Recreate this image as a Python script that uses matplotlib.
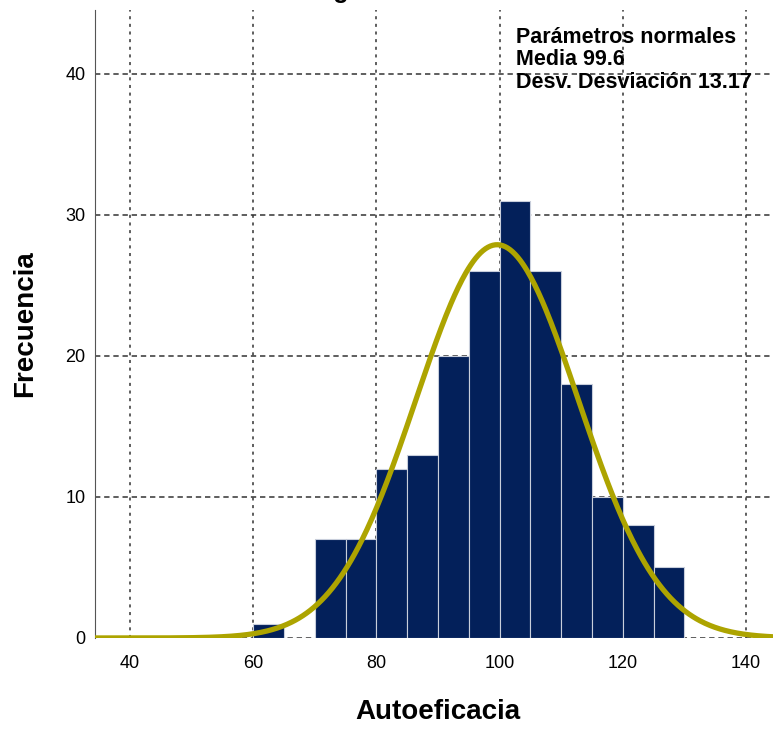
import numpy as np
import matplotlib
matplotlib.use("Agg")
import matplotlib.pyplot as plt

# datos del histograma (bins de 5)
bin_edges = [60, 65, 70, 75, 80, 85, 90, 95, 100, 105, 110, 115, 120, 125, 130]
frecuencias = [1, 0, 7, 7, 12, 13, 20, 26, 31, 26, 18, 10, 8, 5]
media = 99.6
desv = 13.17
n_total = 184
x_ticks = [40, 60, 80, 100, 120, 140]
y_ticks = [0, 10, 20, 30, 40]

plt.rcParams['font.family'] = ['Liberation Sans', 'DejaVu Sans']

fig = plt.figure(figsize=(7.73, 7.29), dpi=100)
ax = fig.add_axes([95/773, 91/729, 1 - 95/773, (638 - 10)/729])

# barras
lefts = bin_edges[:-1]
ancho = bin_edges[1] - bin_edges[0]
ax.bar(lefts, frecuencias, width=ancho, align='edge', color='#03205a',
       edgecolor='#c8cedb', linewidth=0.8, zorder=2)

# curva normal
xs = np.linspace(30, 150, 600)
ys = n_total * ancho / (desv * np.sqrt(2 * np.pi)) * np.exp(-0.5 * ((xs - media) / desv) ** 2)
ax.plot(xs, ys, color='#ada400', linewidth=3.8, zorder=3, solid_capstyle='butt')

# rejilla
for xv in x_ticks:
    ax.axvline(xv, color='#333333', linewidth=1.1, linestyle=(0, (2, 3)), zorder=1)
for yv in y_ticks:
    ax.axhline(yv, color='#333333', linewidth=1.1, linestyle=(0, (3.5, 2.5)), zorder=1)

ax.set_xlim(34.3, 144.4)
ax.set_ylim(0, 44.5)
ax.set_xticks(x_ticks)
ax.set_yticks(y_ticks)
ax.tick_params(length=0, labelsize=13)
ax.tick_params(axis='x', pad=12)
ax.tick_params(axis='y', pad=7)
for s in ['top', 'right', 'bottom']:
    ax.spines[s].set_visible(False)
ax.spines['left'].set_color('#555555')

ax.set_xlabel('Autoeficacia', fontsize=20, fontweight='bold', va='center')
ax.xaxis.set_label_coords(0.506, -0.118)
ax.set_ylabel('Frecuencia', fontsize=20, fontweight='bold', va='center')
ax.yaxis.set_label_coords(-0.103, 0.5)

# parámetros normales
fig.text(516/773, 1 - 27/729, 'Parámetros normales\nMedia 99.6\nDesv. Desviación 13.17',
         ha='left', va='top', fontsize=15.5, fontweight='bold', linespacing=1.08,
         family=['Liberation Sans Narrow', 'Liberation Sans', 'DejaVu Sans'])

# título cortado
fig.text(0.44, 1 + 2/729, 'Histograma', ha='center', va='baseline',
         fontsize=18, fontweight='bold')

fig.savefig('out.png', dpi=100)
